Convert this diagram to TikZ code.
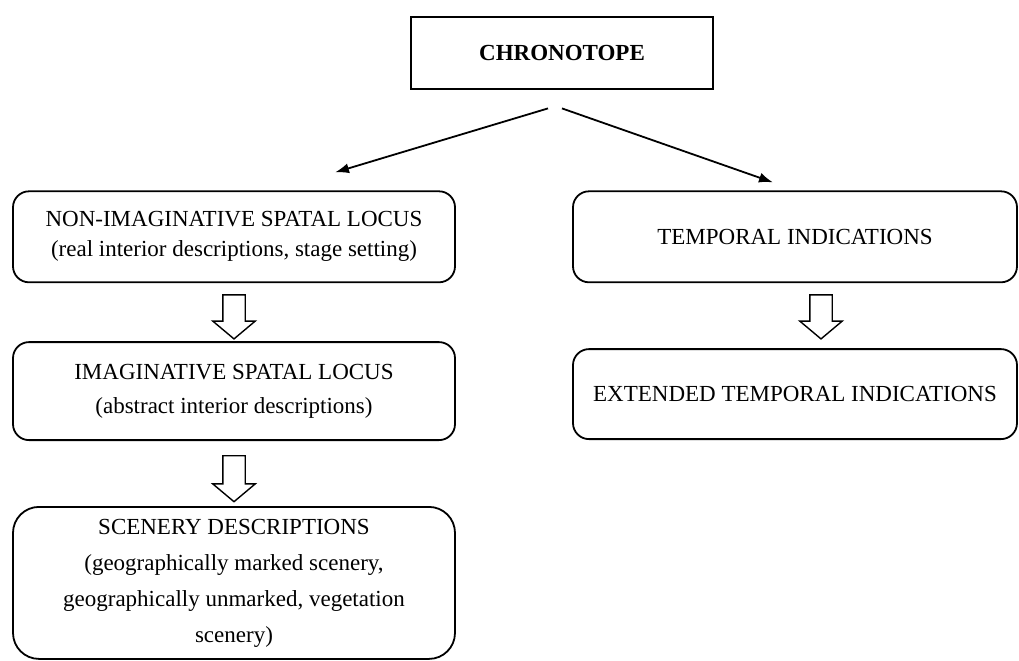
\documentclass[tikz,border=0pt]{standalone}
\usepackage{fontspec}
\setmainfont{Liberation Serif}
\usetikzlibrary{positioning,calc,shapes.arrows,arrows.meta}
\tikzstyle{topbox}=[draw,line width=1.4pt,minimum width=151pt,minimum height=36pt,font=\bfseries\fontsize{11.5}{14}\selectfont]
\tikzstyle{roundbox}=[draw,line width=0.9pt,rounded corners=8pt,align=center,minimum width=221pt,font=\fontsize{11.5}{15}\selectfont]
\tikzstyle{downarrow}=[draw,line width=0.7pt,single arrow,rotate=-90,anchor=tail,inner xsep=0pt,inner ysep=5.25pt,single arrow head extend=5pt,single arrow tip angle=100,minimum height=22pt]
\tikzstyle{branch}=[line width=0.9pt,-{Latex[length=7pt,width=5pt]}]

\begin{document}
\begin{tikzpicture}
\useasboundingbox (0,0) rectangle (509.5pt,-330pt);
\node [topbox] (chrono) at (281pt,-26.5pt) {CHRONOTOPE};
% left column
\node [roundbox, minimum height=45.5pt, below=50pt of chrono, xshift=-164pt] (nonimag)
  {NON-IMAGINATIVE SPATAL LOCUS\\(real interior descriptions, stage setting)};
\node [roundbox, minimum height=49pt, below=29pt of nonimag] (imag)
  {IMAGINATIVE SPATAL LOCUS\\[2pt](abstract interior descriptions)};
\node [roundbox, minimum height=76pt, inner ysep=2pt, rounded corners=13pt, font=\fontsize{11.5}{18}\selectfont, below=32.5pt of imag] (scenery)
  {SCENERY DESCRIPTIONS\\(geographically marked scenery,\\geographically unmarked, vegetation\\scenery)};
% right column
\node [roundbox, minimum width=222pt, minimum height=45.5pt, below=50pt of chrono, xshift=116.5pt] (temporal)
  {TEMPORAL INDICATIONS};
\node [roundbox, minimum width=222pt, minimum height=45pt, below=32.5pt of temporal] (extended)
  {EXTENDED TEMPORAL INDICATIONS};
% branches
\coordinate (startl) at ([xshift=-7pt,yshift=-9pt]chrono.south);
\coordinate (startr) at ([yshift=-9pt]chrono.south);
\coordinate (endl) at ([xshift=50.5pt,yshift=9pt]nonimag.north);
\coordinate (endr) at ([xshift=-11pt,yshift=4pt]temporal.north);
\draw [branch] (startl) -- (endl);
\draw [branch] (startr) -- (endr);
% block arrows
\node [downarrow] (a1) at ([yshift=-5.5pt]nonimag.south) {};
\node [downarrow, minimum height=23pt] (a2) at ([yshift=-7pt]imag.south) {};
\node [downarrow] (a3) at ([xshift=13pt,yshift=-5.5pt]temporal.south) {};
\end{tikzpicture}
\end{document}
